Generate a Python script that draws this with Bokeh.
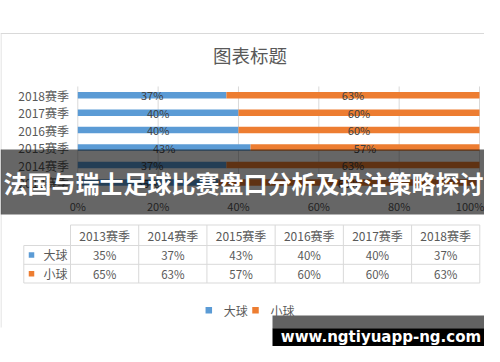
from bokeh.plotting import figure
from bokeh.models import Range1d, ColumnDataSource
from bokeh.core.properties import value
from bokeh.embed import file_html
from bokeh.resources import INLINE

# ---------------- data ----------------
seasons = ["2013赛季", "2014赛季", "2015赛季", "2016赛季", "2017赛季", "2018赛季"]
big = [35, 37, 43, 40, 40, 37]      # 大球
small = [65, 63, 57, 60, 60, 63]    # 小球
series_names = ["大球", "小球"]
x_ticks = [0, 20, 40, 60, 80, 100]
chart_title = "图表标题"
overlay_title = "法国与瑞士足球比赛盘口分析及投注策略探讨"
watermark = "www.ngtiyuapp-ng.com"

# ---------------- style / layout ----------------
BLUE, ORANGE = "#5B9BD5", "#ED7D31"
TXT = "#595959"
GRID = "#D9D9D9"
FONT = "Noto Sans CJK SC"
W, H = 484, 346
X0, X100 = 77.3, 479.0        # pixel position of 0% and 100%
k = (X100 - X0) / 100.0

p = figure(width=W, height=H, output_backend="svg", toolbar_location=None,
           x_range=Range1d((0 - X0) / k, (W - X0) / k),
           y_range=Range1d(H, 0), min_border=0,
           x_axis_location=None, y_axis_location=None)
p.extra_x_ranges = {"px": Range1d(0, W)}
p.outline_line_color = None
p.xgrid.visible = False
p.ygrid.visible = False
p.background_fill_color = "white"
p.border_fill_color = "white"


def txt(x, y, text, size, color=TXT, align="center", style="normal", rng=None, font=FONT):
    kw = dict(x=x, y=y, text=text, text_font=value(font), text_font_size=value(size),
              text_color=color, text_align=align, text_baseline="middle",
              text_font_style=style)
    if rng:
        kw["x_range_name"] = rng
    return p.text(**kw)


# chart frame (top and left border)
p.segment(x0=[0, 0.5], y0=[33, 33], x1=[W, 0.5], y1=[33, 327], x_range_name="px",
          line_color=GRID, line_width=1)

# title
txt([249.5], [54], [chart_title], "18.5px", rng="px")

# rows
n = len(seasons)
ROW0, STEP = 182.0, 17.46
ys = [ROW0 - i * STEP for i in range(n)]
top_area, bot_area = ys[-1] - STEP / 2, ys[0] + STEP / 2

# vertical gridlines
p.segment(x0=x_ticks, y0=[top_area] * len(x_ticks), x1=x_ticks, y1=[bot_area] * len(x_ticks),
          line_color=GRID, line_width=1)

src = ColumnDataSource(dict(
    y=ys, big=big, small=small, total=[b + s for b, s in zip(big, small)],
    bmid=[b / 2 for b in big], smid=[b + s / 2 for b, s in zip(big, small)],
    blab=[f"{b}%" for b in big], slab=[f"{s}%" for s in small], cat=seasons,
    labx=[68.5] * n))

p.hbar(y="y", left=0, right="big", height=6.5, source=src, fill_color=BLUE, line_color=None)
p.hbar(y="y", left="big", right="total", height=6.5, source=src, fill_color=ORANGE, line_color=None)

p.text(x="bmid", y="y", text="blab", source=src, text_font=value(FONT), text_font_size=value("11px"),
       text_color="#404040", text_align="center", text_baseline="middle")
p.text(x="smid", y="y", text="slab", source=src, text_font=value(FONT), text_font_size=value("11px"),
       text_color="#404040", text_align="center", text_baseline="middle")

# category labels
p.text(x="labx", y="y", text="cat", source=src, x_range_name="px", text_font=value(FONT),
       text_font_size=value("12px"), text_color=TXT, text_align="right", text_baseline="middle")

# x tick labels (last one right-aligned so it stays inside the canvas)
txt(x_ticks[:-1], [205] * (len(x_ticks) - 1), [f"{t}%" for t in x_ticks[:-1]], "11px")
txt([x_ticks[-1] + 1.2], [205], [f"{x_ticks[-1]}%"], "11px", align="right")

# ---------------- data table ----------------
T_LEFT, T_LAB = 70.0, 23.3
COLW = (479.3 - T_LEFT) / n
T_RIGHT = T_LEFT + COLW * n
R_TOP, R1, R2, R3 = 224.5, 245.0, 263.8, 282.5
p.segment(x0=[T_LEFT, T_LAB, T_LAB, T_LAB], y0=[R_TOP, R1, R2, R3],
          x1=[T_RIGHT] * 4, y1=[R_TOP, R1, R2, R3], x_range_name="px", line_color=GRID, line_width=1)
vx = [T_LEFT + i * COLW for i in range(n + 1)]
p.segment(x0=vx, y0=[R_TOP] * len(vx), x1=vx, y1=[R3] * len(vx), x_range_name="px",
          line_color=GRID, line_width=1)
p.segment(x0=[T_LAB], y0=[R1], x1=[T_LAB], y1=[R3], x_range_name="px", line_color=GRID, line_width=1)

cx = [T_LEFT + (i + 0.5) * COLW for i in range(n)]
txt(cx, [(R_TOP + R1) / 2] * n, seasons, "12px", rng="px")
txt(cx, [(R1 + R2) / 2] * n, [f"{v}%" for v in big], "11.5px", rng="px")
txt(cx, [(R2 + R3) / 2] * n, [f"{v}%" for v in small], "11.5px", rng="px")
p.scatter(x=[31, 31], y=[(R1 + R2) / 2, (R2 + R3) / 2], marker="square", size=5.5,
          fill_color=[BLUE, ORANGE], line_color=None, x_range_name="px")
txt([55, 55], [(R1 + R2) / 2, (R2 + R3) / 2], series_names, "12px", rng="px")

# ---------------- legend ----------------
p.scatter(x=[208.3, 255.0], y=[309.7, 309.7], marker="square", size=6.5,
          fill_color=[BLUE, ORANGE], line_color=None, x_range_name="px")
txt([223.3, 270.0], [309.7, 309.7], series_names, "12px", align="left", rng="px")

# ---------------- overlay banner ----------------
p.quad(left=[0], right=[W], top=[149], bottom=[214], x_range_name="px",
       fill_color="black", fill_alpha=0.6, line_color=None)
txt([243], [181.5], [overlay_title], "24px", color="white", style="bold", rng="px")

# ---------------- watermark ----------------
p.quad(left=[272], right=[W], top=[315], bottom=[327.7], x_range_name="px",
       fill_color="#626262", line_color=None)
p.quad(left=[272], right=[W], top=[327.7], bottom=[H], x_range_name="px",
       fill_color="black", line_color=None)
txt([380.5], [336.5], [watermark], "15px", color="white", style="bold", rng="px", font="DejaVu Sans")

open("out.html", "w").write(file_html(p, INLINE))
